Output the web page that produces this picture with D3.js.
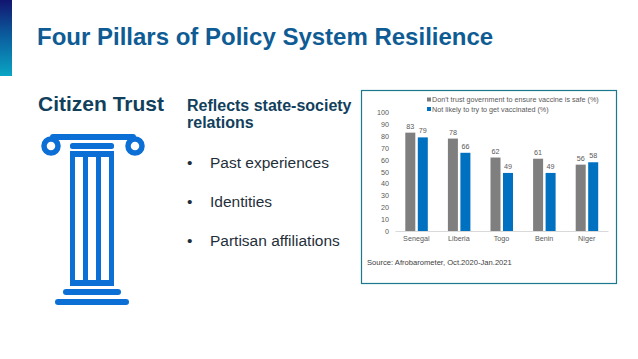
<!DOCTYPE html>
<html>
<head>
<meta charset="utf-8">
<script src="https://d3js.org/d3.v7.min.js"></script>
<style>
  html, body { margin: 0; padding: 0; background: #fff; }
  svg { display: block; font-family: "Liberation Sans", Arial, sans-serif; }
</style>
</head>
<body>
<svg id="slide" width="638" height="359"></svg>
<script>
// chart data
const countries = ["Senegal", "Liberia", "Togo", "Benin", "Niger"];
const distrust = [83, 78, 62, 61, 56];
const unlikely = [79, 66, 49, 49, 58];
const yTicks = [0, 10, 20, 30, 40, 50, 60, 70, 80, 90, 100];
const seriesNames = ["Don't trust government to ensure vaccine is safe (%)", "Not likely to try to get vaccinated (%)"];
const bullets = ["Past experiences", "Identities", "Partisan affiliations"];

const grey = "#7f7f7f";
const blue = "#0070c0";
const iconBlue = "#0b6fd6";
const textBlue = "#0f5c94";
const svg = d3.select("#slide");

// corner gradient block
const grad = svg.append("defs").append("linearGradient")
    .attr("id", "corner").attr("x1", 0).attr("y1", 0).attr("x2", 0).attr("y2", 1);
grad.append("stop").attr("offset", "0%").attr("stop-color", "#12156f");
grad.append("stop").attr("offset", "45%").attr("stop-color", "#0b5a9c");
grad.append("stop").attr("offset", "100%").attr("stop-color", "#0aa5c4");
svg.append("rect").attr("width", 12).attr("height", 76).attr("fill", "url(#corner)");

// headings
svg.append("text").attr("x", 37).attr("y", 45)
    .attr("font-size", 24).attr("font-weight", 700).attr("fill", textBlue)
    .text("Four Pillars of Policy System Resilience");
svg.append("text").attr("x", 38).attr("y", 111)
    .attr("font-size", 21).attr("font-weight", 700).attr("fill", "#123f5c")
    .text("Citizen Trust");
svg.append("text").attr("x", 187).attr("y", 111)
    .attr("font-size", 16).attr("font-weight", 700).attr("fill", "#123f5c")
    .text("Reflects state-society");
svg.append("text").attr("x", 187).attr("y", 128)
    .attr("font-size", 16).attr("font-weight", 700).attr("fill", "#123f5c")
    .text("relations");

// bullet list
const bulletY = d3.scalePoint().domain(bullets).range([168, 246]);
const bulletRows = svg.append("g").selectAll("g").data(bullets).join("g")
    .attr("font-size", 15.5).attr("fill", "#1f2f3a");
bulletRows.append("text").attr("x", 187).attr("y", d => bulletY(d)).text("•");
bulletRows.append("text").attr("x", 210).attr("y", d => bulletY(d)).text(d => d);

// pillar icon
const icon = svg.append("g").attr("fill", iconBlue);
icon.append("rect").attr("x", 50).attr("y", 134).attr("width", 86).attr("height", 6).attr("rx", 3);
[51, 135].forEach(cx => {
    icon.append("circle").attr("cx", cx).attr("cy", 146).attr("r", 7)
        .attr("fill", "#fff").attr("stroke", iconBlue).attr("stroke-width", 5.5);
});
icon.append("rect").attr("x", 70).attr("y", 143).attr("width", 44).attr("height", 6).attr("rx", 2.5);
icon.append("rect").attr("x", 70).attr("y", 151).attr("width", 44).attr("height", 6).attr("rx", 1);
[70, 83, 96, 109].forEach(x => {
    icon.append("rect").attr("x", x).attr("y", 151).attr("width", 5).attr("height", 135);
});
icon.append("rect").attr("x", 70).attr("y", 280).attr("width", 44).attr("height", 6).attr("rx", 2);
icon.append("rect").attr("x", 63).attr("y", 289).attr("width", 58).attr("height", 6).attr("rx", 3);
icon.append("rect").attr("x", 55).attr("y", 299).attr("width", 74).attr("height", 6).attr("rx", 3);

// chart frame
svg.append("rect").attr("x", 361.5).attr("y", 90.5).attr("width", 255).attr("height", 193)
    .attr("fill", "#fff").attr("stroke", "#1a7a8c").attr("stroke-width", 1.2);

// scales
const x = d3.scaleBand().domain(countries).range([395, 608]);
const y = d3.scaleLinear().domain([0, 100]).range([231, 112.5]);
const barWidth = 10;

// axes
const xAxis = svg.append("g").attr("transform", "translate(0, 231)")
    .call(d3.axisBottom(x).tickSize(0).tickPadding(5));
xAxis.select(".domain").attr("stroke", "#d9d9d9");
xAxis.selectAll("text").attr("font-size", 7.2).attr("fill", "#595959");

const yAxis = svg.append("g").attr("transform", "translate(395, 0)")
    .call(d3.axisLeft(y).tickValues(yTicks).tickSize(0).tickPadding(6));
yAxis.select(".domain").remove();
yAxis.selectAll("text").attr("font-size", 7.2).attr("fill", "#595959");

// bars and their labels
const series = [
    { values: distrust, fill: grey, dx: -11 },
    { values: unlikely, fill: blue, dx: 1.5 }
];
series.forEach(s => {
    const g = svg.append("g");
    g.selectAll("rect").data(countries).join("rect")
        .attr("x", d => x(d) + x.bandwidth() / 2 + s.dx)
        .attr("y", (d, i) => y(s.values[i]))
        .attr("width", barWidth)
        .attr("height", (d, i) => y(0) - y(s.values[i]))
        .attr("fill", s.fill);
    g.selectAll("text").data(countries).join("text")
        .attr("x", d => x(d) + x.bandwidth() / 2 + s.dx + barWidth / 2)
        .attr("y", (d, i) => y(s.values[i]) - 4)
        .attr("text-anchor", "middle")
        .attr("font-size", 7.2).attr("fill", "#595959")
        .text((d, i) => s.values[i]);
});

// legend
const legend = svg.append("g").selectAll("g").data(seriesNames).join("g")
    .attr("transform", (d, i) => `translate(427, ${101 + i * 9.5})`);
legend.append("rect").attr("y", -3.5).attr("width", 4).attr("height", 4)
    .attr("fill", (d, i) => i === 0 ? grey : blue);
legend.append("text").attr("x", 5).attr("y", 1)
    .attr("font-size", 7.2).attr("fill", "#595959").text(d => d);

// source note
svg.append("text").attr("x", 367).attr("y", 265)
    .attr("font-size", 7.6).attr("fill", "#404040")
    .text("Source: Afrobarometer, Oct.2020-Jan.2021");
</script>
</body>
</html>
